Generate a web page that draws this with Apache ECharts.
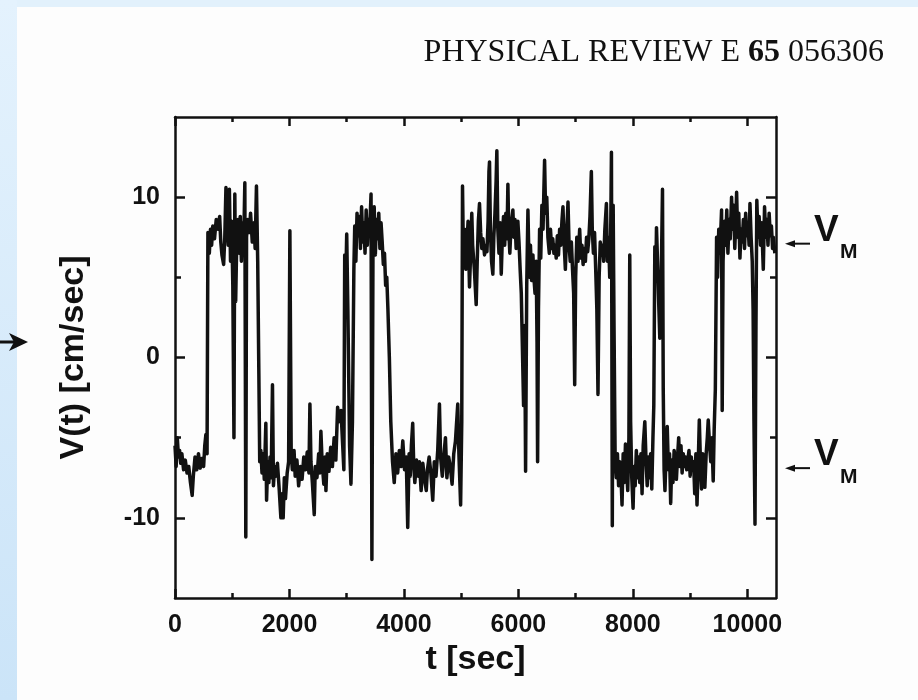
<!DOCTYPE html>
<html>
<head>
<meta charset="utf-8">
<script src="https://cdn.jsdelivr.net/npm/echarts@6/dist/echarts.min.js"></script>
<style>
html,body{margin:0;padding:0;background:#fdfdfd;}
#c{width:918px;height:700px;}
</style>
</head>
<body>
<div id="c"></div>
<script>
// ---- data ----
const times = [
0,20,40,60,80,100,120,150,180,210,240,270,300,320,350,380,410,440,470,500,520,540,560,575,
600,620,640,660,690,720,750,780,800,820,850,870,890,910,930,950,970,990,1010,1030,1045,1060,1080,1100,1120,1140,1160,1180,1200,1220,1237,1250,1270,1300,1320,1350,1380,1400,1423,1445,1465,
1480,1500,1520,1540,1560,1587,1600,1620,1640,1660,1680,1703,1720,1740,1760,1790,1820,1850,1870,1890,1910,1930,1960,1985,2007,2030,2050,
2080,2100,2130,2160,2190,2220,2250,2280,2310,2340,2357,2375,2400,2433,2450,2480,2510,2530,2549,2570,2600,2620,2637,2660,2690,2720,2750,2780,2810,2841,2870,2900,2930,2950,2965,2985,3000,3020,3050,3074,3100,
3125,3140,3160,3180,3200,3220,3240,3260,3280,3300,3320,3340,3360,3380,3400,3425,3440,3460,3480,3500,3520,3540,3560,3580,3600,3620,3640,3660,3680,3700,3720,3745,3770,3800,
3830,3860,3890,3920,3950,3980,4010,4040,4066,4090,4110,4130,4153,4170,4190,4220,4250,4270,4300,4330,4360,4390,4410,4440,4470,4503,4530,4560,4590,4620,4640,4670,4700,4725,4750,4780,4810,4841,4870,4900,4940,4960,4990,5010,5023,
5040,5060,5080,5100,5120,5145,5165,5185,5200,5230,5262,5280,5300,5320,5340,5360,5380,5408,5430,5450,5470,5485,5495,5510,5530,5553,5570,5590,5610,5623,5640,5660,5680,5700,5720,5740,5760,5780,5800,5816,5830,5850,5870,5903,5920,5940,5960,5990,6010,6030,6050,6070,6090,6110,6125,6145,6166,6190,6210,6230,6253,6270,6290,6310,6325,6335,6350,6370,
6390,6410,6430,6445,6457,6475,6495,6515,6540,6560,6580,6600,6620,6640,6660,6680,6700,6720,6740,6760,6778,6800,6820,6840,6866,6885,6905,6925,6945,6965,6983,7000,7020,7040,7070,7090,7110,7130,7150,7170,7190,7210,7230,7250,7274,7290,7310,7330,7350,7370,7390,7410,7430,7450,7470,7490,7510,7537,7555,7575,7595,7610,7625,7640,7655,7670,7690,7710,
7730,7750,7770,7790,7810,7830,7850,7870,7890,7910,7930,7945,7960,7980,8003,8020,8040,8060,8080,8100,8120,8140,8160,8180,8208,8230,8250,8270,8290,8310,8330,8350,8365,8383,8400,8412,8430,8450,8470,8490,8505,8517,8530,8545,
8560,8580,8600,8620,8640,8660,8680,8700,8720,8740,8760,8780,8800,8820,8840,8860,8880,8900,8920,8940,8960,8980,9000,9020,9040,9060,9080,9100,9120,9140,9160,9180,9200,9220,9240,9257,9280,9300,9316,9340,9360,9380,9403,9420,9440,
9462,9480,9500,9520,9549,9560,9575,9600,9620,9640,9660,9680,9700,9724,9740,9760,9780,9800,9812,9830,9850,9870,9890,9910,9930,9950,9970,9990,10010,10030,10045,10065,10085,10100,10115,10133,10150,10165,10185,10205,10230,10250,10278,10300,10320,10340,10360,10380,10400,10420,10440,10453,10480
];
const velocity = [
-5.5,-6.8,-5.0,-6.2,-5.8,-6.6,-6.0,-7.0,-6.4,-7.2,-6.8,-7.8,-8.6,-7.4,-6.2,-7.0,-6.0,-6.9,-6.3,-6.8,-5.5,-4.8,-6.0,7.8,
6.5,8.0,7.0,8.2,7.4,8.6,8.0,8.8,7.2,6.4,5.8,7.5,10.6,9.0,7.0,10.5,6.0,8.5,4.5,-5.0,10.2,3.5,7.5,8.6,6.5,8.8,6.0,8.4,7.0,10.9,-11.2,7.5,8.6,7.8,9.0,7.2,8.4,6.8,10.7,6.0,-1.0,
-6.5,-5.8,-7.2,-6.0,-7.6,-4.1,-8.9,-6.5,-7.8,-6.2,-7.5,-1.7,-8.0,-6.8,-7.4,-6.6,-8.2,-10.0,-8.5,-10.0,-7.5,-8.8,-7.2,-6.5,7.9,-6.0,-7.0,
-5.8,-7.4,-6.4,-8.0,-6.8,-7.6,-6.2,-7.0,-5.9,-7.2,-2.9,-6.5,-7.8,-9.8,-6.8,-7.5,-6.0,-7.2,-4.6,-6.5,-7.9,-6.2,-8.3,-6.0,-7.1,-5.6,-6.8,-5.0,-6.4,-3.1,-4.0,-3.3,-5.5,-7.0,6.4,5.0,7.7,3.0,-5.5,-7.9,-4.0,
5.5,8.2,6.0,9.0,7.6,8.8,6.8,9.4,7.2,8.4,6.5,9.2,7.0,8.6,7.8,10.2,-12.6,8.0,9.4,6.4,8.6,7.4,9.0,6.8,8.4,7.2,5.8,6.5,4.5,5.0,3.0,0.0,-4.0,-6.5,
-7.8,-6.0,-7.2,-5.8,-6.8,-5.2,-7.0,-6.2,-10.6,-6.0,-7.4,-5.5,-4.1,-6.6,-7.8,-6.4,-7.4,-6.5,-8.3,-6.6,-7.6,-8.3,-7.0,-6.2,-7.2,-8.9,-6.5,-7.4,-5.8,-2.9,-6.2,-7.4,-6.0,-5.0,-7.5,-6.2,-6.8,-7.9,-6.0,-5.2,-2.9,-6.0,-9.2,-4.0,10.7,
6.0,8.0,5.5,7.0,8.5,4.4,6.5,9.0,7.0,5.5,3.3,6.0,8.5,9.6,7.8,6.8,7.4,6.4,7.0,6.6,8.5,11.6,12.2,8.0,6.0,5.2,7.5,9.0,11.0,12.9,8.0,6.5,8.4,5.2,7.6,8.8,7.0,9.0,7.4,10.8,8.0,6.5,8.2,9.2,7.5,8.6,6.8,8.5,7.2,5.5,4.0,0.5,-3.0,2.0,-7.1,4.5,9.2,5.0,7.0,4.8,6.4,5.0,4.0,6.0,1.0,-6.5,3.0,8.0,
6.2,9.5,8.0,10.5,12.3,9.0,10.0,7.5,6.5,8.0,6.8,7.4,6.5,7.0,6.2,7.6,6.4,8.0,7.0,8.5,9.4,7.0,5.5,7.5,9.7,7.0,6.0,7.2,5.5,4.0,-1.7,5.0,7.5,6.0,8.0,6.2,7.0,5.8,6.8,6.0,7.5,6.6,7.4,8.8,11.6,8.0,6.5,7.8,5.5,3.0,-2.3,5.0,7.2,6.4,7.0,6.0,8.0,9.6,6.0,7.5,5.0,7.0,12.8,-10.5,9.5,2.0,-6.5,-7.5,
-6.0,-8.0,-6.5,-7.2,-9.2,-6.0,-7.8,-5.4,-7.0,-8.3,-5.0,6.4,-4.0,-7.5,-9.4,-6.8,-8.0,-5.8,-7.5,-6.2,-7.8,-6.0,-8.5,-5.5,-4.0,-6.5,-8.0,-6.2,-7.5,-6.0,-8.2,-5.0,-3.0,6.9,5.0,8.1,6.0,3.5,1.2,4.0,7.5,10.5,-2.0,-7.0,
-8.3,-6.0,-4.3,-7.0,-6.0,-9.1,-6.4,-7.8,-5.8,-6.6,-7.6,-6.2,-5.0,-6.8,-5.5,-7.2,-6.0,-6.8,-6.2,-7.0,-6.4,-5.8,-7.4,-6.2,-7.0,-6.5,-8.5,-6.0,-9.2,-6.8,-3.9,-6.5,-8.2,-6.0,-6.0,-8.1,-6.0,-5.0,-3.9,-5.5,-6.5,-5.0,-7.7,-4.5,-2.0,
7.5,5.0,8.0,6.5,9.2,-3.3,6.0,8.5,7.0,9.2,6.5,8.6,7.4,10.0,8.0,9.5,6.8,8.8,10.3,7.5,9.0,6.2,8.0,7.2,8.6,6.8,9.0,7.6,8.4,7.0,9.6,7.5,6.0,3.0,-4.0,-10.4,2.0,9.8,7.5,8.8,7.0,8.4,5.5,9.4,7.5,8.6,7.0,9.0,7.6,8.2,6.8,7.5,6.5
];
const xMajorTicks = [0, 2000, 4000, 6000, 8000, 10000];
const xMinorTicks = [1000, 3000, 5000, 7000, 9000];
const yMajorTicks = [-10, 0, 10];
const yMinorTicks = [-5, 5];
const xRange = [0, 10500];
const yRange = [-15, 15];
const vmLevels = [7.1, -6.9]; // levels marked V_M on the right

// ---- chart ----
const INK = '#111';
const sans = '"Liberation Sans", Arial, sans-serif';
const serif = '"Liberation Serif", "Times New Roman", serif';
const chart = echarts.init(document.getElementById('c'), null, {renderer: 'canvas'});
const data = times.map((t, i) => [t, velocity[i]]);

function axis(kind, pos, ticks, len, withLine, labels) {
  return {
    type: 'value', position: pos, min: kind === 'x' ? xRange[0] : yRange[0], max: kind === 'x' ? xRange[1] : yRange[1],
    axisLine: {show: withLine, onZero: false, lineStyle: {color: INK, width: 2.5}},
    axisTick: {show: true, inside: true, length: len, customValues: ticks, lineStyle: {color: INK, width: 2.5}},
    axisLabel: labels ? {show: true, customValues: labels, formatter: v => String(v), color: INK, fontFamily: sans, fontWeight: 'bold', fontSize: 25, margin: 15} : {show: false},
    splitLine: {show: false}
  };
}
const x0 = axis('x', 'bottom', xMajorTicks, 9, true, xMajorTicks);
x0.name = 't [sec]';
x0.nameLocation = 'middle';
x0.nameGap = 44;
x0.nameTextStyle = {color: INK, fontFamily: sans, fontWeight: 'bold', fontSize: 34};
const y0 = axis('y', 'left', yMajorTicks, 10, true, yMajorTicks);
y0.name = 'V(t) [cm/sec]';
y0.nameLocation = 'middle';
y0.nameGap = 84;
y0.nameTextStyle = {color: INK, fontFamily: sans, fontWeight: 'bold', fontSize: 34};

const option = {
  backgroundColor: '#fdfdfd',
  animation: false,
  title: {
    text: '{a|PHYSICAL REVIEW E }{b|65}{a| 056306}',
    right: 29, top: 32,
    textStyle: {fontWeight: 'normal', rich: {
      a: {fontFamily: serif, fontSize: 32, fontWeight: 'normal', color: INK},
      b: {fontFamily: serif, fontSize: 32, fontWeight: 'bold', color: INK}
    }}
  },
  grid: {left: 175, right: 142, top: 117, bottom: 102, containLabel: false},
  xAxis: [
    x0,
    axis('x', 'bottom', xMinorTicks, 5, false, null),
    axis('x', 'top', xMajorTicks, 9, true, null),
    axis('x', 'top', xMinorTicks, 5, false, null)
  ],
  yAxis: [
    y0,
    axis('y', 'left', yMinorTicks, 6, false, null),
    axis('y', 'right', yMajorTicks, 10, true, null),
    axis('y', 'right', yMinorTicks, 6, false, null)
  ],
  series: [{
    type: 'line', data: data, xAxisIndex: 0, yAxisIndex: 0,
    showSymbol: false, symbol: 'none', smooth: false,
    lineStyle: {color: INK, width: 3.5, join: 'round'}
  }]
};
chart.setOption(option);

// annotations: blue frame, left arrow, V_M markers
const g = [
  {type: 'rect', z: -1, shape: {x: 0, y: 0, width: 918, height: 7}, style: {fill: '#e2f1fc'}},
  {type: 'rect', z: -1, shape: {x: 0, y: 0, width: 17, height: 700},
   style: {fill: new echarts.graphic.LinearGradient(0, 0, 0, 1, [{offset: 0, color: '#e4f2fd'}, {offset: 1, color: '#cbe4f8'}])}},
  {type: 'line', shape: {x1: 0, y1: 342, x2: 16, y2: 342}, style: {stroke: INK, lineWidth: 3}},
  {type: 'polygon', shape: {points: [[28, 342], [9, 333], [14, 342], [9, 351]]}, style: {fill: INK}}
];
vmLevels.forEach(v => {
  const y = chart.convertToPixel({yAxisIndex: 0}, v);
  g.push({type: 'line', shape: {x1: 792, y1: y, x2: 810, y2: y}, style: {stroke: INK, lineWidth: 2}});
  g.push({type: 'polygon', shape: {points: [[785, y], [795, y - 3.5], [795, y + 3.5]]}, style: {fill: INK}});
  g.push({type: 'text', x: 814, y: y - 13, style: {text: 'V', fill: INK, font: 'bold 37px ' + sans, align: 'left', verticalAlign: 'middle'}});
  g.push({type: 'text', x: 840, y: y + 9, style: {text: 'M', fill: INK, font: 'bold 21px ' + sans, align: 'left', verticalAlign: 'middle'}});
});
chart.setOption({graphic: g});
</script>
</body>
</html>
